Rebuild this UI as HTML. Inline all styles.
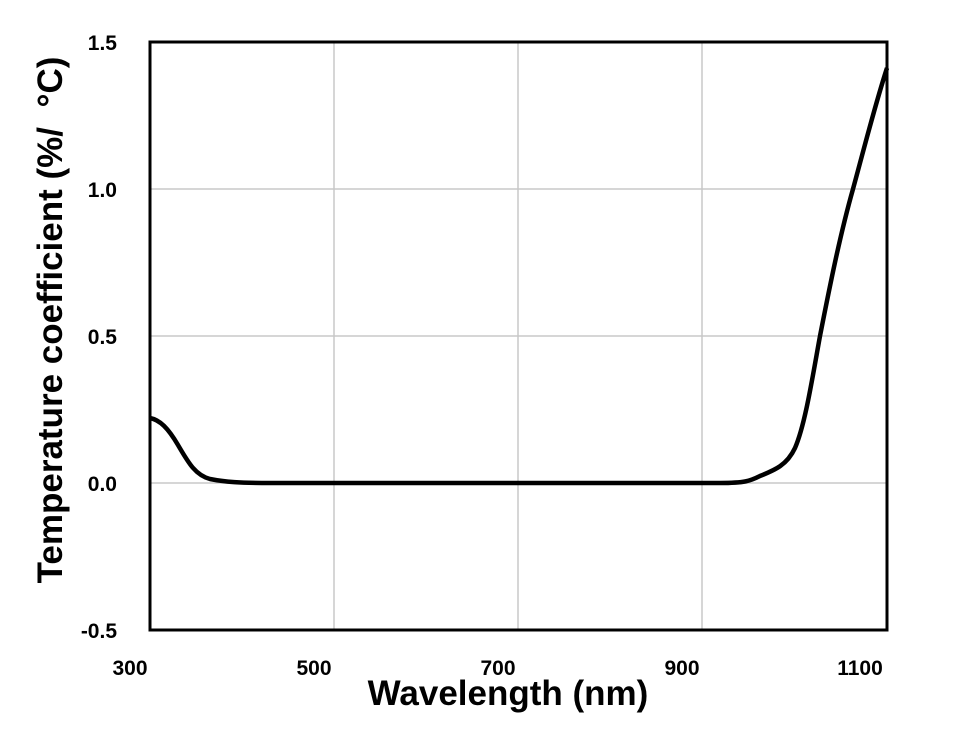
<!DOCTYPE html>
<html><head><style>
html,body{margin:0;padding:0;background:#fff;}
</style></head><body>
<svg width="957" height="733" xmlns="http://www.w3.org/2000/svg" font-family="Liberation Sans, Arial, sans-serif">
<rect width="957" height="733" fill="#fff"/>
<g stroke="#c8c8c8" stroke-width="1.5">
<line x1="150" y1="189" x2="887" y2="189"/>
<line x1="150" y1="336" x2="887" y2="336"/>
<line x1="150" y1="483" x2="887" y2="483"/>
<line x1="334" y1="42" x2="334" y2="630"/>
<line x1="518" y1="42" x2="518" y2="630"/>
<line x1="702" y1="42" x2="702" y2="630"/>
</g>
<rect x="150" y="42" width="737" height="588" fill="none" stroke="#000" stroke-width="3"/>
<path d="M150,418 C160,420 168,428 178,445 C188,462 195,475 210,479 C225,482 240,483 270,483 L720,483 C745,483 750,481 760,476 C775,470 787,465 795,448 C805,425 812,380 820,336 C830,285 840,235 853,189 C865,145 875,105 887,68" fill="none" stroke="#000" stroke-width="4.5" stroke-linejoin="round"/>
<g font-size="21" font-weight="bold" text-anchor="end" fill="#000">
<text x="117" y="50">1.5</text>
<text x="117" y="197">1.0</text>
<text x="117" y="344">0.5</text>
<text x="117" y="491">0.0</text>
<text x="117" y="638">-0.5</text>
</g>
<g font-size="21" font-weight="bold" text-anchor="middle" fill="#000">
<text x="130" y="675">300</text>
<text x="314" y="675">500</text>
<text x="498" y="675">700</text>
<text x="682" y="675">900</text>
<text x="860" y="675">1100</text>
</g>
<text x="508" y="705" font-size="35" font-weight="bold" text-anchor="middle">Wavelength (nm)</text>
<text transform="translate(62,320) rotate(-90)" font-size="35" font-weight="bold" text-anchor="middle" xml:space="preserve">Temperature coefficient (%/  °C)</text>
</svg>
</body></html>
